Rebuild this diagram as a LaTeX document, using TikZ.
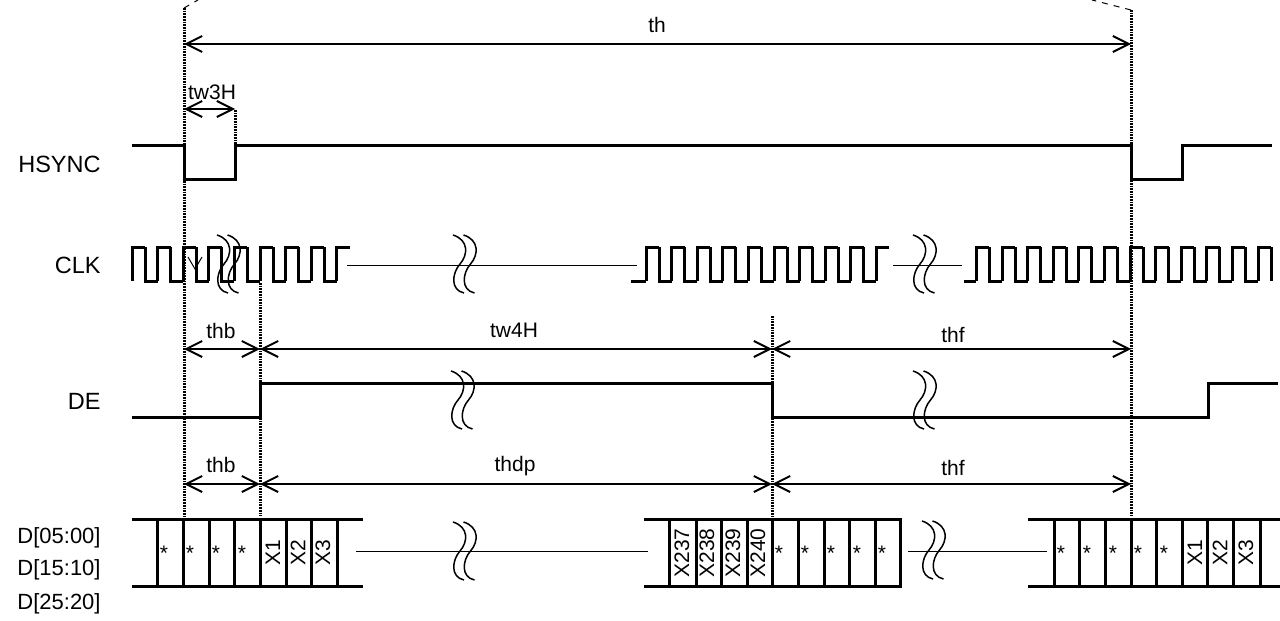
\documentclass[tikz,border=0pt]{standalone}
\usepackage{fontspec}
\setmainfont{Liberation Sans}
\usetikzlibrary{arrows.meta}
\tikzset{
  sig/.style={line width=1.5pt,line join=miter},
  thin line/.style={line width=.5pt},
  guide/.style={line width=1.5pt,dash pattern=on .85pt off .5pt},
  span/.style={line width=1.2pt,{Straight Barb[length=8pt,width=8pt,line width=1pt]}-{Straight Barb[length=8pt,width=8pt,line width=1pt]}},
  lbl/.style={font=\fontsize{10.5}{12}\selectfont,inner sep=0pt},
  signame/.style={font=\fontsize{11.75}{13}\selectfont,inner sep=0pt,anchor=east},
  busname/.style={font=\fontsize{11}{13}\selectfont,inner sep=0pt,anchor=east},
  vlbl/.style={lbl,rotate=90},
  squig/.pic={
    \draw[line width=.75pt] (0,0) .. controls (16,5) and (15,20) .. (7,29) .. controls (-1,38) and (-3,55) .. (11,58);
    \draw[line width=.75pt] (10.5,0) .. controls (26.5,5) and (25.5,20) .. (17.5,29) .. controls (9.5,38) and (7.5,55) .. (21.5,58);
  }
}
\begin{document}
\begin{tikzpicture}[x=.5pt,y=-.5pt]
  \useasboundingbox (0,0) rectangle (1280,621);

  % signal names
  \node[signame] (hsync) at (101,164) {HSYNC};
  \node[signame] (clk) at (101,265) {CLK};
  \node[signame] (de) at (101,401) {DE};
  \node[busname] (d0) at (101,538) {D[05:00]};
  \node[busname] (d1) at (101,570) {D[15:10]};
  \node[busname] (d2) at (101,604) {D[25:20]};

  % guides
  \coordinate (a0) at (184,8);
  \coordinate (a1) at (184,516);
  \coordinate (b0) at (235,110);
  \coordinate (b1) at (235,145);
  \coordinate (c0) at (260,283);
  \coordinate (c1) at (260,516);
  \coordinate (e0) at (772,316);
  \coordinate (e1) at (772,516);
  \coordinate (f0) at (1131,10);
  \coordinate (f1) at (1131,516);
  \foreach \from/\to in {a0/a1,b0/b1,c0/c1,e0/e1,f0/f1}
    \draw[guide] (\from) -- (\to);

  \coordinate (g0) at (198,0);
  \coordinate (g1) at (1092,0);
  \draw[thin line,dashed] (a0) -- (g0);
  \draw[thin line,dashed] (f0) -- (g1);

  % spans
  \foreach \yy/\from/\to/\txt/\tx/\ty in {
    44/184/1131/th/657/25,
    109/184/235/tw3H/212/92,
    349/184/260/thb/221/331,
    349/260/772/tw4H/514/330,
    349/772/1131/thf/953/335,
    484/184/260/thb/221/465,
    484/260/772/thdp/515/466,
    484/772/1131/thf/953/468}
  {
    \draw[span] (\from,\yy) -- (\to,\yy);
    \node[lbl] at (\tx,\ty) {\txt};
  }

  % hsync
  \draw[sig] (132,145) -- (184,145) -- (184,179) -- (235,179) -- (235,145) -- (1131,145) -- (1131,179) -- (1182,179) -- (1182,145) -- (1272,145);

  % clk
  \foreach \start/\last in {132/8,646/9,976.4/11}
    \foreach \k in {0,...,\last}
      \draw[sig] (\start+\k*25.6,281) -- (\start+\k*25.6,247) -- (\start+\k*25.6+13,247);
  \foreach \start/\last in {132/7,646/8,976.4/10}
    \foreach \k in {0,...,\last}
      \draw[sig] (\start+\k*25.6+13,247) -- (\start+\k*25.6+13,281) -- (\start+\k*25.6+25.6,281);
  \draw[sig] (1271.4,247) -- (1271.4,281);
  \draw[sig] (631,281) -- (646,281);
  \draw[sig] (964,281) -- (976.4,281);
  \coordinate (k0) at (347,265);
  \coordinate (k1) at (637,265);
  \coordinate (k2) at (893,265);
  \coordinate (k3) at (962,265);
  \draw[thin line] (k0) -- (k1);
  \draw[thin line] (k2) -- (k3);
  \coordinate (m0) at (195,250);
  \coordinate (m1) at (195,270);
  \draw[thin line,-{Straight Barb[length=6pt,width=7pt]}] (m0) -- (m1);

  % de
  \draw[sig] (132,417) -- (260,417) -- (260,383) -- (772,383) -- (772,417) -- (1208,417) -- (1208,383) -- (1278,383);

  % data
  \foreach \from/\to in {132/363,644/902,1028/1280}
  {
    \draw[sig] (\from,519) -- (\to,519);
    \draw[sig] (\from,586) -- (\to,586);
  }
  \foreach \x in {157,183,209,234,260,286,311,337,669,696,721,747,772,798,824,849,875,900,1054,1079,1105,1131,1156,1182,1207,1233,1260}
    \draw[sig] (\x,519) -- (\x,586);
  \foreach \x in {164,190,216,242,779,805,831,857,882,1061,1087,1113,1138,1164}
    \node[lbl] at (\x,553) {*};
  \foreach \x/\txt in {273/X1,298/X2,323/X3,682/X237,707/X238,733/X239,758/X240,1195/X1,1220/X2,1246/X3}
    \node[vlbl] at (\x,553) {\txt};
  \coordinate (n0) at (356,551);
  \coordinate (n1) at (648,551);
  \coordinate (n2) at (908,551);
  \coordinate (n3) at (1047,551);
  \draw[thin line] (n0) -- (n1);
  \draw[thin line] (n2) -- (n3);

  % breaks
  \foreach \x/\y in {217/235,453/235,913/235,451/371,913/371,453/522,922/521}
    \pic at (\x,\y) {squig};
\end{tikzpicture}
\end{document}
